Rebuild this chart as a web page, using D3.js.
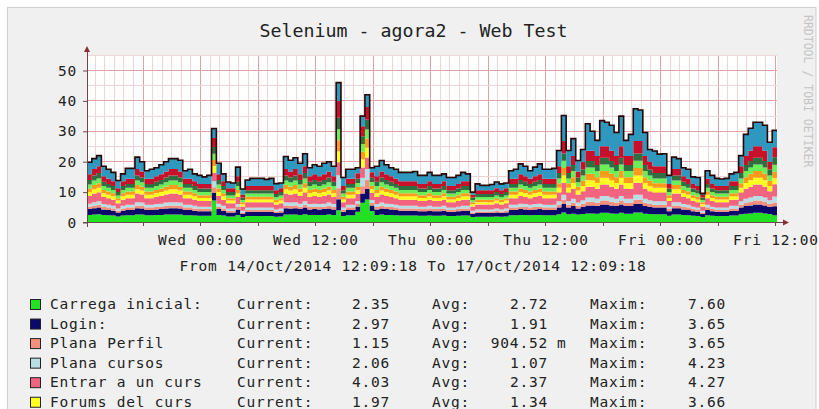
<!DOCTYPE html>
<html><head><meta charset="utf-8">
<script src="https://cdn.jsdelivr.net/npm/d3@7"></script>
<style>
html,body{margin:0;padding:0;background:#fff;}
svg{display:block;}
text{font-family:"DejaVu Sans Mono",monospace;}
</style></head><body>
<svg id="chart" width="819" height="409"></svg>
<script>
const titleText = "Selenium - agora2 - Web Test";
const footerText = "From 14/Oct/2014 12:09:18 To 17/Oct/2014 12:09:18";
const creditText = "RRDTOOL / TOBI OETIKER";
const startTime = Date.UTC(2014, 9, 14, 12, 9, 18);
const endTime = Date.UTC(2014, 9, 17, 12, 9, 18);
const stepMinutes = 30;
const yTickValues = [0, 10, 20, 30, 40, 50];

const seriesKeys = ["carrega","login","perfil","cursos","entrar","forums","s7","s8","s9","s10","s11"];
const seriesColors = ["#22E022","#0A0A6B","#F4907C","#B8DDE4","#F2647F","#FFFF22","#FF9A1A","#6CEE58","#2E6E40","#C8102A","#2E98BE"];
const legendNames = ["Carrega inicial:","Login:","Plana Perfil","Plana cursos","Entrar a un curs","Forums del curs"];
const legendCurrent = ["2.35","2.97","1.15","2.06","4.03","1.97"];
const legendAvg = ["2.72","1.91","904.52","1.07","2.37","1.34"];
const legendAvgUnit = ["","","m","","",""];
const legendMax = ["7.60","3.65","3.65","4.23","4.27","3.66"];

const carrega = [
2.5,2.6,2.7,2.5,2.4,2.3,2.0,2.3,2.4,2.4,2.6,2.6,
2.4,2.4,2.5,2.5,2.6,2.6,2.6,2.6,2.4,2.4,2.3,2.2,
2.2,2.2,7.2,2.5,2.3,2.0,2.0,2.5,1.8,2.1,2.1,2.1,
2.1,2.1,2.1,1.9,2.0,2.6,2.6,2.6,2.5,2.7,2.5,2.5,
2.5,2.5,2.6,2.5,4.0,2.1,2.4,2.4,3.5,6.5,7.6,3.8,
2.5,2.6,2.5,2.5,2.4,2.3,2.3,2.3,2.3,2.2,2.2,2.3,
2.2,2.2,2.3,2.1,2.1,2.2,2.3,2.3,1.8,1.9,1.9,1.9,
1.9,2.0,1.9,2.0,2.4,2.4,2.5,2.5,2.4,2.5,2.5,2.4,
2.4,2.4,2.7,3.3,2.7,2.9,2.6,2.8,3.0,3.0,2.9,3.2,
3.2,3.0,2.9,3.2,2.9,2.9,3.3,3.3,2.9,2.8,2.7,2.7,
2.7,2.2,2.6,2.6,2.5,2.4,2.2,2.1,1.8,2.4,2.2,2.1,
2.1,2.1,2.3,2.3,2.7,2.9,3.0,3.2,3.2,3.0,2.8,2.35];
const login = [
1.9,2.1,2.2,1.8,1.7,1.6,1.3,1.6,1.7,1.7,2.1,2.0,
1.7,1.7,1.8,1.9,2.0,2.1,2.1,2.0,1.7,1.7,1.6,1.5,
1.5,1.5,2.6,1.9,1.6,1.3,1.3,1.8,1.0,1.4,1.4,1.4,
1.4,1.4,1.4,1.2,1.3,2.1,2.0,2.1,1.9,2.2,1.8,1.9,
1.8,1.9,2.0,1.8,3.65,1.4,1.7,1.7,1.8,3.0,3.5,1.8,
1.8,2.0,1.9,1.8,1.7,1.6,1.6,1.6,1.6,1.5,1.5,1.6,
1.5,1.5,1.6,1.4,1.4,1.5,1.6,1.6,1.0,1.2,1.2,1.2,
1.2,1.3,1.2,1.3,1.7,1.7,1.9,1.8,1.7,1.8,1.9,1.7,
1.7,1.7,2.2,2.8,2.2,2.5,2.0,2.3,2.6,2.6,2.5,2.7,
2.7,2.6,2.5,2.7,2.5,2.5,2.8,2.8,2.5,2.3,2.2,2.2,
2.2,1.5,2.1,2.1,1.8,1.7,1.5,1.4,1.0,1.7,1.5,1.4,
1.4,1.4,1.6,1.6,2.2,2.5,2.6,2.7,2.7,2.6,2.3,2.97];
const perfil = [
.8,.9,.9,.8,.8,.7,.6,.7,.8,.8,.9,.9,
.8,.8,.8,.8,.9,.9,.9,.9,.8,.8,.7,.7,
.7,.7,1.8,.8,.7,.6,.6,.8,.5,.6,.6,.6,
.6,.6,.6,.5,.6,.9,.9,.9,.8,.9,.8,.8,
.8,.8,.9,.8,3.65,.6,.8,.8,.8,2.4,3.0,.8,
.8,.9,.8,.8,.8,.7,.7,.7,.7,.7,.7,.7,
.7,.7,.7,.6,.6,.7,.7,.7,.5,.5,.5,.5,
.5,.6,.5,.6,.8,.8,.8,.8,.8,.8,.8,.8,
.8,.8,.9,1.4,.9,1.1,.9,1.0,1.2,1.2,1.1,1.3,
1.3,1.2,1.1,1.3,1.1,1.1,1.4,1.4,1.1,1.0,.9,.9,
.9,.7,.9,.9,.8,.8,.7,.6,.5,.8,.7,.6,
.6,.6,.7,.7,.9,1.1,1.2,1.3,1.3,1.2,1.0,1.15];
const cursos = [
1.0,1.1,1.2,1.0,.9,.9,.7,.9,.9,.9,1.1,1.1,
.9,.9,1.0,1.0,1.1,1.1,1.1,1.1,.9,.9,.9,.8,
.8,.8,2.0,1.0,.9,.7,.7,1.0,.6,.8,.8,.8,
.8,.8,.8,.7,.7,1.1,1.1,1.1,1.0,1.2,1.0,1.0,
1.0,1.0,1.1,1.0,4.23,.8,.9,.9,1.0,2.8,3.5,1.0,
1.0,1.1,1.0,1.0,.9,.9,.9,.9,.9,.8,.8,.9,
.8,.8,.9,.8,.8,.8,.9,.9,.6,.7,.7,.7,
.7,.7,.7,.7,.9,.9,1.0,1.0,.9,1.0,1.0,.9,
.9,.9,1.2,1.6,1.2,1.3,1.1,1.2,1.4,1.4,1.3,1.5,
1.5,1.4,1.3,1.5,1.3,1.3,1.6,1.6,1.3,1.2,1.2,1.2,
1.2,.8,1.1,1.1,1.0,.9,.8,.8,.6,.9,.8,.8,
.8,.8,.9,.9,1.2,1.3,1.4,1.5,1.5,1.4,1.2,2.06];
const entrar = [
2.5,2.8,2.9,2.3,2.2,2.0,1.7,2.0,2.2,2.2,2.8,2.6,
2.2,2.2,2.3,2.5,2.6,2.8,2.8,2.6,2.2,2.2,2.0,1.9,
1.9,1.9,2.8,2.5,2.0,1.7,1.7,2.3,1.4,1.8,1.8,1.8,
1.8,1.8,1.8,1.6,1.7,2.8,2.6,2.8,2.5,2.9,2.3,2.5,
2.3,2.5,2.6,2.3,4.27,1.8,2.2,2.2,2.3,3.4,3.8,2.3,
2.3,2.6,2.5,2.3,2.2,2.0,2.0,2.0,2.0,1.9,1.9,2.0,
1.9,1.9,2.0,1.8,1.8,1.9,2.0,2.0,1.4,1.6,1.6,1.6,
1.6,1.7,1.6,1.7,2.2,2.2,2.5,2.3,2.2,2.3,2.5,2.2,
2.2,2.2,2.9,4.0,2.9,3.3,2.6,3.0,3.6,3.6,3.3,3.8,
3.8,3.6,3.3,3.8,3.3,3.3,4.0,4.0,3.3,3.0,2.9,2.9,
2.9,1.9,2.8,2.8,2.3,2.2,1.9,1.8,1.4,2.2,1.9,1.8,
1.8,1.8,2.0,2.0,2.9,3.3,3.6,3.8,3.8,3.6,3.0,4.03];
const forums = [
1.3,1.4,1.5,1.2,1.1,1.1,.9,1.1,1.1,1.1,1.4,1.3,
1.1,1.1,1.2,1.3,1.3,1.4,1.4,1.3,1.1,1.1,1.1,1.0,
1.0,1.0,2.2,1.3,1.1,.9,.9,1.2,.7,.9,.9,.9,
.9,.9,.9,.8,.9,1.4,1.3,1.4,1.3,1.5,1.2,1.3,
1.2,1.3,1.3,1.2,3.66,.9,1.1,1.1,1.2,2.7,3.2,1.2,
1.2,1.3,1.3,1.2,1.1,1.1,1.1,1.1,1.1,1.0,1.0,1.1,
1.0,1.0,1.1,.9,.9,1.0,1.1,1.1,.7,.8,.8,.8,
.8,.9,.8,.9,1.1,1.1,1.3,1.2,1.1,1.2,1.3,1.1,
1.1,1.1,1.5,2.4,1.5,1.9,1.3,1.7,2.1,2.1,1.9,2.2,
2.2,2.1,1.9,2.2,1.9,1.9,2.4,2.4,1.9,1.7,1.5,1.5,
1.5,1.0,1.4,1.4,1.2,1.1,1.0,.9,.7,1.1,1.0,.9,
.9,.9,1.1,1.1,1.5,1.9,2.1,2.2,2.2,2.1,1.7,1.97];
const s7 = [
1.2,1.4,1.5,1.1,1.1,1.0,.8,1.0,1.1,1.1,1.4,1.3,
1.1,1.1,1.1,1.2,1.3,1.4,1.4,1.3,1.1,1.1,1.0,.9,
.9,.9,2.0,1.2,1.0,.8,.8,1.1,.7,.9,.9,.9,
.9,.9,.9,.8,.8,1.4,1.3,1.4,1.2,1.5,1.1,1.2,
1.1,1.2,1.3,1.1,3.6,.9,1.1,1.1,1.1,2.5,3.0,1.1,
1.1,1.3,1.2,1.1,1.1,1.0,1.0,1.0,1.0,.9,.9,1.0,
.9,.9,1.0,.9,.9,.9,1.0,1.0,.7,.8,.8,.8,
.8,.8,.8,.8,1.1,1.1,1.2,1.1,1.1,1.1,1.2,1.1,
1.1,1.1,1.5,2.4,1.5,1.9,1.3,1.7,2.1,2.1,1.9,2.2,
2.2,2.1,1.9,2.2,1.9,1.9,2.4,2.4,1.9,1.7,1.5,1.5,
1.5,.9,1.4,1.4,1.1,1.1,.9,.9,.7,1.1,.9,.9,
.9,.9,1.0,1.0,1.5,1.9,2.1,2.2,2.2,2.1,1.7,2.2];
const s8 = [
1.3,1.5,1.6,1.3,1.2,1.1,.9,1.1,1.2,1.2,1.5,1.4,
1.2,1.2,1.3,1.3,1.4,1.5,1.5,1.4,1.2,1.2,1.1,1.0,
1.0,1.0,2.0,1.3,1.1,.9,.9,1.3,.7,1.0,1.0,1.0,
1.0,1.0,1.0,.9,.9,1.5,1.4,1.5,1.3,1.6,1.3,1.3,
1.3,1.3,1.4,1.3,3.6,1.0,1.2,1.2,1.3,2.5,3.0,1.3,
1.3,1.4,1.3,1.3,1.2,1.1,1.1,1.1,1.1,1.0,1.0,1.1,
1.0,1.0,1.1,1.0,1.0,1.0,1.1,1.1,.7,.9,.9,.9,
.9,.9,.9,.9,1.2,1.2,1.3,1.3,1.2,1.3,1.3,1.2,
1.2,1.2,1.6,2.4,1.6,2.0,1.4,1.8,2.1,2.1,2.0,2.2,
2.2,2.1,2.0,2.2,2.0,2.0,2.4,2.4,2.0,1.8,1.6,1.6,
1.6,1.0,1.5,1.5,1.3,1.2,1.0,1.0,.7,1.2,1.0,1.0,
1.0,1.0,1.1,1.1,1.6,2.0,2.1,2.2,2.2,2.1,1.8,2.3];
const s9 = [
1.5,1.7,1.8,1.4,1.3,1.3,1.1,1.3,1.3,1.3,1.7,1.6,
1.3,1.3,1.4,1.5,1.6,1.7,1.7,1.6,1.3,1.3,1.3,1.2,
1.2,1.2,2.2,1.5,1.3,1.1,1.1,1.4,.8,1.1,1.1,1.1,
1.1,1.1,1.1,1.0,1.1,1.7,1.6,1.7,1.5,1.8,1.4,1.5,
1.4,1.5,1.6,1.4,3.8,1.1,1.3,1.3,1.4,2.6,3.2,1.4,
1.4,1.6,1.5,1.4,1.3,1.3,1.3,1.3,1.3,1.2,1.2,1.3,
1.2,1.2,1.3,1.1,1.1,1.2,1.3,1.3,.8,1.0,1.0,1.0,
1.0,1.1,1.0,1.1,1.3,1.3,1.5,1.4,1.3,1.4,1.5,1.3,
1.3,1.3,1.8,2.4,1.8,2.0,1.6,1.9,2.1,2.1,2.0,2.2,
2.2,2.1,2.0,2.2,2.0,2.0,2.4,2.4,2.0,1.9,1.8,1.8,
1.8,1.2,1.7,1.7,1.4,1.3,1.2,1.1,.8,1.3,1.2,1.1,
1.1,1.1,1.3,1.3,1.8,2.0,2.1,2.2,2.2,2.1,1.9,2.4];
const s10 = [
1.9,2.1,2.2,1.8,1.7,1.6,1.3,1.6,1.7,1.7,2.1,2.0,
1.7,1.7,1.8,1.9,2.0,2.1,2.1,2.0,1.7,1.7,1.6,1.5,
1.5,1.5,3.0,1.9,1.6,1.3,1.3,1.8,.9,1.4,1.4,1.4,
1.4,1.4,1.4,1.2,1.3,2.1,2.0,2.1,1.9,2.2,1.8,1.9,
1.8,1.9,2.0,1.8,5.5,1.4,1.7,1.7,1.8,3.3,4.2,1.8,
1.8,2.0,1.9,1.8,1.7,1.6,1.6,1.6,1.6,1.5,1.5,1.6,
1.5,1.5,1.6,1.4,1.4,1.5,1.6,1.6,.9,1.2,1.2,1.2,
1.2,1.3,1.2,1.3,1.7,1.7,1.9,1.8,1.7,1.8,1.9,1.7,
1.7,1.7,2.2,4.1,2.2,3.0,2.0,2.6,3.4,3.4,3.0,3.8,
3.8,3.4,3.0,3.8,3.0,3.0,4.1,4.1,3.0,2.6,2.2,2.2,
2.2,1.5,2.1,2.1,1.8,1.7,1.5,1.4,.9,1.7,1.5,1.4,
1.4,1.4,1.6,1.6,2.2,3.0,3.4,3.8,3.8,3.4,2.6,3.3];
const s11 = [
3.9,3.4,3.5,3.3,3.1,2.9,2.5,2.4,3.4,3.4,3.9,3.2,
2.6,3.1,2.8,3.1,3.2,3.4,3.4,3.7,2.6,3.1,2.4,2.8,
2.3,2.8,3.1,3.6,2.4,2.0,1.7,3.0,1.9,2.0,2.5,2.5,
2.5,2.2,2.5,2.2,1.7,4.1,3.7,3.7,3.6,4.1,2.8,3.1,
3.3,3.6,3.2,3.3,6.04,2.8,3.1,3.1,1.8,3.3,4.0,1.5,
3.3,3.6,3.1,2.8,3.1,2.9,2.9,2.9,3.2,2.8,2.8,2.9,
2.8,2.8,2.4,2.8,2.8,2.8,2.9,2.4,0.9,2.1,1.6,1.6,
1.9,2.0,2.1,1.7,2.6,3.1,3.4,3.3,2.6,3.0,3.4,3.1,
3.1,3.4,5.2,8.4,5.2,5.7,3.6,4.0,8.9,6.4,5.1,8.4,
7.9,8.4,7.7,9.9,5.1,7.1,10.6,10.2,7.7,4.0,5.0,4.0,
4.1,2.8,3.9,3.4,2.8,3.1,2.3,2.8,0.4,2.6,2.8,2.5,
2.3,2.5,2.4,2.9,3.5,7.1,7.4,7.9,7.9,8.4,6.4,5.57];

const seriesValues = [carrega, login, perfil, cursos, entrar, forums, s7, s8, s9, s10, s11];

// build table
const n = carrega.length;
const rows = [];
for (let i = 0; i <= n; i++) {
  const j = Math.min(i, n - 1);
  const row = { t: new Date(startTime + i * stepMinutes * 60000) };
  seriesKeys.forEach((k, s) => row[k] = seriesValues[s][j]);
  rows.push(row);
}

const svg = d3.select("#chart");
const W = 819, H = 409;
const plot = { left: 87, right: 777, top: 55.3, bottom: 222.5 };

// panel
svg.append("rect").attr("x", 0).attr("y", 0).attr("width", W).attr("height", H).attr("fill", "#ffffff");
svg.append("rect").attr("x", 7.5).attr("y", 7.5).attr("width", 808.5).attr("height", 420)
  .attr("fill", "#f0f0f0").attr("stroke", "#cfcfcf").attr("stroke-width", 1);

const x = d3.scaleUtc().domain([new Date(startTime), new Date(endTime)]).range([plot.left, plot.right]);
const y = d3.scaleLinear().domain([0, 55]).range([plot.bottom, plot.top]);

// plot background
svg.append("rect").attr("x", plot.left).attr("y", plot.top)
  .attr("width", plot.right - plot.left).attr("height", plot.bottom - plot.top).attr("fill", "#ffffff");

// grid
const grid = svg.append("g");
const hours = d3.utcHour.range(new Date(startTime), new Date(endTime + 1));
hours.forEach(h => {
  const major = h.getUTCHours() % 6 === 0;
  grid.append("line").attr("x1", x(h)).attr("x2", x(h)).attr("y1", plot.top).attr("y2", plot.bottom)
    .attr("stroke", major ? "#e0a4a4" : "#eed6d6").attr("stroke-width", 1)
    .attr("shape-rendering", "crispEdges");
});
d3.range(5, 56, 5).forEach(v => {
  const major = v % 10 === 0;
  grid.append("line").attr("x1", plot.left).attr("x2", plot.right + (major ? 0 : 0)).attr("y1", y(v)).attr("y2", y(v))
    .attr("stroke", major ? "#e0a4a4" : "#eed6d6").attr("stroke-width", 1)
    .attr("shape-rendering", "crispEdges");
});

// stacked areas
const stack = d3.stack().keys(seriesKeys);
const layers = stack(rows);
const area = d3.area().curve(d3.curveStepAfter)
  .x(d => x(d.data.t)).y0(d => y(d[0])).y1(d => y(d[1]));
svg.append("g").selectAll("path").data(layers).join("path")
  .attr("d", area).attr("fill", (d, i) => seriesColors[i]);

// top outline
const topLine = d3.line().curve(d3.curveStepAfter).x(d => x(d.data.t)).y(d => y(d[1]));
svg.append("path").attr("d", topLine(layers[layers.length - 1]))
  .attr("fill", "none").attr("stroke", "#2a0505").attr("stroke-width", 1.6);

// axes lines + arrows
const axisColor = "#6a4848";
svg.append("line").attr("x1", plot.left).attr("x2", plot.left).attr("y1", plot.bottom + 4).attr("y2", 50)
  .attr("stroke", axisColor).attr("stroke-width", 1).attr("shape-rendering", "crispEdges");
svg.append("line").attr("x1", plot.left - 4).attr("x2", 784).attr("y1", plot.bottom).attr("y2", plot.bottom)
  .attr("stroke", axisColor).attr("stroke-width", 1);
svg.append("path").attr("d", `M${plot.left},46 L${plot.left - 3},52 L${plot.left + 3},52 Z`).attr("fill", "#8a3030");
svg.append("path").attr("d", `M789,${plot.bottom} L783,${plot.bottom - 3} L783,${plot.bottom + 3} Z`).attr("fill", "#8a3030");

// major x ticks
hours.filter(h => h.getUTCHours() % 6 === 0).forEach(h => {
  svg.append("line").attr("x1", x(h)).attr("x2", x(h)).attr("y1", plot.bottom).attr("y2", plot.bottom + 3)
    .attr("stroke", axisColor).attr("shape-rendering", "crispEdges");
});

const fontSize = 14.5, ls = 0.8;
// y axis
const yAxis = d3.axisLeft(y).tickValues(yTickValues).tickSize(4).tickPadding(6).tickFormat(d3.format("d"));
const gy = svg.append("g").attr("transform", `translate(${plot.left},0)`).call(yAxis);
gy.select(".domain").remove();
gy.selectAll(".tick line").attr("stroke", axisColor);
gy.selectAll("text").attr("font-family", "DejaVu Sans Mono").attr("font-size", fontSize)
  .attr("letter-spacing", ls).attr("fill", "#222");

// x axis
const xAxis = d3.axisBottom(x).ticks(d3.utcHour.every(12)).tickSize(0).tickPadding(12)
  .tickFormat(d3.utcFormat("%a %H:%M"));
const gx = svg.append("g").attr("transform", `translate(0,${plot.bottom})`).call(xAxis);
gx.select(".domain").remove();
gx.selectAll("text").attr("font-family", "DejaVu Sans Mono").attr("font-size", fontSize)
  .attr("letter-spacing", ls).attr("fill", "#222");

// title
svg.append("text").attr("x", 413.5).attr("y", 37).attr("text-anchor", "middle")
  .attr("font-size", 18.3).attr("fill", "#222").text(titleText);
// footer
svg.append("text").attr("x", 413).attr("y", 271).attr("text-anchor", "middle")
  .attr("font-size", fontSize).attr("letter-spacing", ls).attr("fill", "#222").text(footerText);
// credit
svg.append("text").attr("transform", "translate(804,15) rotate(90)")
  .attr("font-size", 11.5).attr("fill", "#c4c4c4").text(creditText);

// legend
const lg = svg.append("g").attr("font-size", fontSize).attr("letter-spacing", ls).attr("fill", "#222");
legendNames.forEach((name, i) => {
  const by = 309 + i * 19.55;
  lg.append("rect").attr("x", 30.5).attr("y", by - 9.5).attr("width", 10).attr("height", 10)
    .attr("fill", seriesColors[i]).attr("stroke", "#222").attr("stroke-width", 1);
  lg.append("text").attr("x", 50).attr("y", by).text(name);
  lg.append("text").attr("x", 237).attr("y", by).text("Current:");
  lg.append("text").attr("x", 390).attr("y", by).attr("text-anchor", "end").text(legendCurrent[i]);
  lg.append("text").attr("x", 432).attr("y", by).text("Avg:");
  lg.append("text").attr("x", 548).attr("y", by).attr("text-anchor", "end").text(legendAvg[i]);
  if (legendAvgUnit[i]) lg.append("text").attr("x", 557).attr("y", by).text(legendAvgUnit[i]);
  lg.append("text").attr("x", 590).attr("y", by).text("Maxim:");
  lg.append("text").attr("x", 726).attr("y", by).attr("text-anchor", "end").text(legendMax[i]);
});
</script>
</body></html>
